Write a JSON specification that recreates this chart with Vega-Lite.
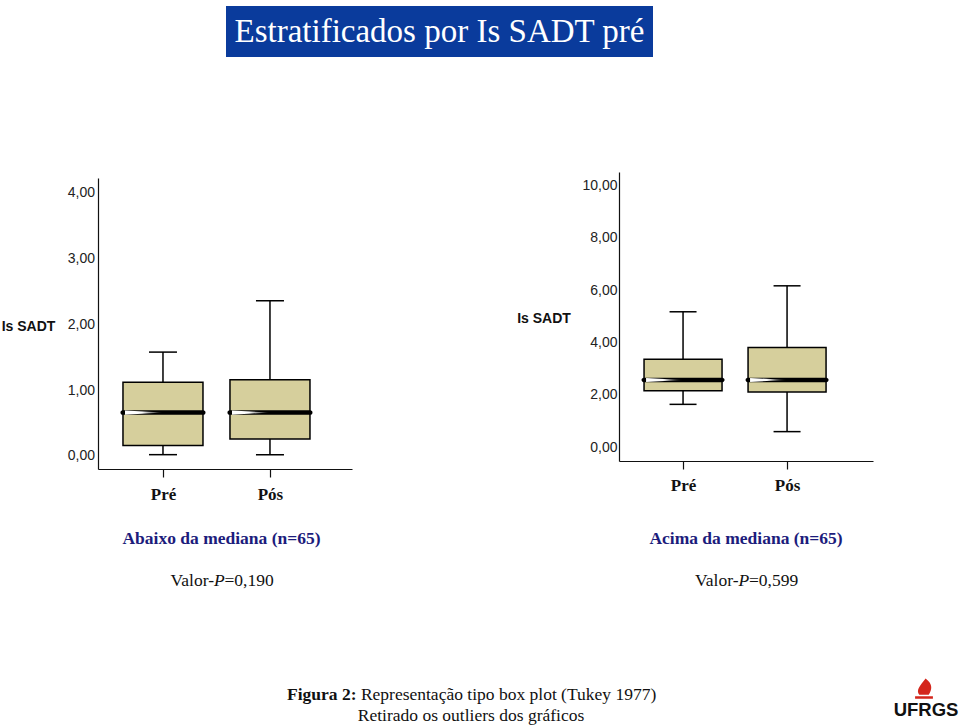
{
  "$schema": "https://vega.github.io/schema/vega-lite/v6.json",
  "width": 960,
  "height": 728,
  "autosize": {"type": "none"},
  "padding": 0,
  "background": "white",
  "config": {"view": {"stroke": null}, "axis": {"grid": false}},
  "datasets": {
    "abaixo": [
      {"momento": "Pré", "min": 0.02, "q1": 0.16, "mediana": 0.66, "q3": 1.12, "max": 1.58},
      {"momento": "Pós", "min": 0.02, "q1": 0.26, "mediana": 0.66, "q3": 1.16, "max": 2.36}
    ],
    "acima": [
      {"momento": "Pré", "min": 1.64, "q1": 2.16, "mediana": 2.57, "q3": 3.36, "max": 5.17},
      {"momento": "Pós", "min": 0.60, "q1": 2.11, "mediana": 2.57, "q3": 3.81, "max": 6.16}
    ],
    "titulo": [{"titulo": "Estratificados por Is SADT pré"}],
    "notas": [
      {"painel": "Abaixo", "linha": "grupo", "parte": "grupo", "texto": "Abaixo da mediana (n=65)"},
      {"painel": "Acima", "linha": "grupo", "parte": "grupo", "texto": "Acima da mediana (n=65)"},
      {"painel": "Abaixo", "linha": "valor", "parte": "rotulo", "texto": "Valor-"},
      {"painel": "Abaixo", "linha": "valor", "parte": "P", "texto": "P"},
      {"painel": "Abaixo", "linha": "valor", "parte": "numero", "texto": "=0,190"},
      {"painel": "Acima", "linha": "valor", "parte": "rotulo", "texto": "Valor-"},
      {"painel": "Acima", "linha": "valor", "parte": "P", "texto": "P"},
      {"painel": "Acima", "linha": "valor", "parte": "numero", "texto": "=0,599"}
    ],
    "legenda": [
      {"linha": "1", "parte": "negrito", "texto": "Figura 2:"},
      {"linha": "1", "parte": "normal", "texto": "Representação tipo box plot (Tukey 1977)"},
      {"linha": "2", "parte": "centro", "texto": "Retirado os outliers dos gráficos"}
    ],
    "logo": [
      {"marca": "UFRGS", "elemento": "chama", "texto": ""},
      {"marca": "UFRGS", "elemento": "sigla", "texto": "UFRGS"}
    ]
  },
  "resolve": {
    "scale": {"x": "independent", "y": "independent"},
    "axis": {"x": "independent", "y": "independent"}
  },
  "layer": [
    {
      "data": {"name": "titulo"},
      "encoding": {
        "x": {"field": "titulo", "type": "nominal", "scale": {"type": "band", "range": [226, 653], "paddingInner": 0, "paddingOuter": 0}, "axis": null},
        "y": {"field": "titulo", "type": "nominal", "scale": {"type": "band", "range": [6, 57], "paddingInner": 0, "paddingOuter": 0}, "axis": null}
      },
      "layer": [
        {"mark": {"type": "rect", "color": "#0a3b9c"}},
        {"mark": {"type": "text", "color": "white", "font": "Liberation Serif", "fontSize": 33, "baseline": "middle", "align": "center"},
         "encoding": {"text": {"field": "titulo"}}}
      ]
    },
    {
      "data": {"name": "abaixo"},
      "layer": [
        {
          "mark": {"type": "rule", "color": "black", "strokeWidth": 1.5},
          "encoding": {
            "x": {"field": "momento", "type": "nominal",
                  "scale": {"type": "point", "domain": ["Pré", "Pós"], "range": [98, 352], "padding": 0.687, "align": 0.442},
                  "axis": {"orient": "bottom", "offset": -259, "title": null, "labelAngle": 0, "domainColor": "#111", "domainWidth": 1.2, "tickColor": "#111", "tickSize": 8, "tickWidth": 1.2, "labelFont": "Liberation Serif", "labelFontSize": 17, "labelFontWeight": "bold", "labelColor": "#111", "labelPadding": 9}},
            "y": {"field": "min", "type": "quantitative",
                  "scale": {"domain": [-0.198, 4.228], "range": [469, 178], "nice": false, "zero": false},
                  "axis": {"orient": "left", "offset": -98, "values": [0, 1, 2, 3, 4], "labelExpr": "replace(format(datum.value, '.2f'), '.', ',')", "ticks": false, "tickSize": 0, "domainColor": "#111", "domainWidth": 1.2, "labelFont": "Liberation Sans", "labelFontSize": 14, "labelColor": "#222", "labelPadding": 3.5, "labelOverlap": false, "labelFlush": false, "title": "Is SADT", "titleFont": "Liberation Sans", "titleFontSize": 14, "titleFontWeight": "bold", "titleColor": "#111", "titleAngle": 0, "titleX": -70, "titleY": 326.5, "titleAlign": "center", "titleBaseline": "middle"}},
            "y2": {"field": "max"}
          }
        },
        {
          "mark": {"type": "tick", "color": "black", "opacity": 1, "thickness": 1.5, "size": 28},
          "encoding": {"x": {"field": "momento", "type": "nominal"}, "y": {"field": "min", "type": "quantitative"}}
        },
        {
          "mark": {"type": "tick", "color": "black", "opacity": 1, "thickness": 1.5, "size": 28},
          "encoding": {"x": {"field": "momento", "type": "nominal"}, "y": {"field": "max", "type": "quantitative"}}
        },
        {
          "mark": {"type": "bar", "size": 80, "fill": "#d6cf9c", "stroke": "black", "strokeWidth": 1.5, "opacity": 1},
          "encoding": {"x": {"field": "momento", "type": "nominal"}, "y": {"field": "q1", "type": "quantitative"}, "y2": {"field": "q3"}}
        },
        {
          "mark": {"type": "tick", "color": "black", "opacity": 1, "thickness": 4.5, "size": 85, "cornerRadius": 2.2},
          "encoding": {"x": {"field": "momento", "type": "nominal"}, "y": {"field": "mediana", "type": "quantitative"}}
        },
        {
          "mark": {"type": "point", "shape": "M-1,-0.11L1,0L-1,0.11Z", "size": 1444, "xOffset": -19, "filled": true, "opacity": 1, "strokeWidth": 0,
                   "fill": {"gradient": "linear", "x1": 0, "y1": 0, "x2": 1, "y2": 0, "stops": [{"offset": 0, "color": "white"}, {"offset": 0.45, "color": "white"}, {"offset": 1, "color": "black"}]}},
          "encoding": {"x": {"field": "momento", "type": "nominal"}, "y": {"field": "mediana", "type": "quantitative"}}
        }
      ]
    },
    {
      "data": {"name": "acima"},
      "layer": [
        {
          "mark": {"type": "rule", "color": "black", "strokeWidth": 1.5},
          "encoding": {
            "x": {"field": "momento", "type": "nominal",
                  "scale": {"type": "point", "domain": ["Pré", "Pós"], "range": [619, 873], "padding": 0.721, "align": 0.427},
                  "axis": {"orient": "bottom", "offset": -267, "title": null, "labelAngle": 0, "domainColor": "#111", "domainWidth": 1.2, "tickColor": "#111", "tickSize": 8, "tickWidth": 1.2, "labelFont": "Liberation Serif", "labelFontSize": 17, "labelFontWeight": "bold", "labelColor": "#111", "labelPadding": 8}},
            "y": {"field": "min", "type": "quantitative",
                  "scale": {"domain": [-0.52, 10.5], "range": [461, 172], "nice": false, "zero": false},
                  "axis": {"orient": "left", "offset": -619, "values": [0, 2, 4, 6, 8, 10], "labelExpr": "replace(format(datum.value, '.2f'), '.', ',')", "ticks": false, "tickSize": 0, "domainColor": "#111", "domainWidth": 1.2, "labelFont": "Liberation Sans", "labelFontSize": 14, "labelColor": "#222", "labelPadding": 2, "labelOverlap": false, "labelFlush": false, "title": "Is SADT", "titleFont": "Liberation Sans", "titleFontSize": 14, "titleFontWeight": "bold", "titleColor": "#111", "titleAngle": 0, "titleX": -75.5, "titleY": 318, "titleAlign": "center", "titleBaseline": "middle"}},
            "y2": {"field": "max"}
          }
        },
        {
          "mark": {"type": "tick", "color": "black", "opacity": 1, "thickness": 1.5, "size": 27},
          "encoding": {"x": {"field": "momento", "type": "nominal"}, "y": {"field": "min", "type": "quantitative"}}
        },
        {
          "mark": {"type": "tick", "color": "black", "opacity": 1, "thickness": 1.5, "size": 27},
          "encoding": {"x": {"field": "momento", "type": "nominal"}, "y": {"field": "max", "type": "quantitative"}}
        },
        {
          "mark": {"type": "bar", "size": 78, "fill": "#d6cf9c", "stroke": "black", "strokeWidth": 1.5, "opacity": 1},
          "encoding": {"x": {"field": "momento", "type": "nominal"}, "y": {"field": "q1", "type": "quantitative"}, "y2": {"field": "q3"}}
        },
        {
          "mark": {"type": "tick", "color": "black", "opacity": 1, "thickness": 4.5, "size": 83, "cornerRadius": 2.2},
          "encoding": {"x": {"field": "momento", "type": "nominal"}, "y": {"field": "mediana", "type": "quantitative"}}
        },
        {
          "mark": {"type": "point", "shape": "M-1,-0.11L1,0L-1,0.11Z", "size": 1369, "xOffset": -18.5, "filled": true, "opacity": 1, "strokeWidth": 0,
                   "fill": {"gradient": "linear", "x1": 0, "y1": 0, "x2": 1, "y2": 0, "stops": [{"offset": 0, "color": "white"}, {"offset": 0.45, "color": "white"}, {"offset": 1, "color": "black"}]}},
          "encoding": {"x": {"field": "momento", "type": "nominal"}, "y": {"field": "mediana", "type": "quantitative"}}
        }
      ]
    },
    {
      "data": {"name": "notas"},
      "encoding": {
        "x": {"field": "painel", "type": "nominal", "scale": {"type": "point", "domain": ["Abaixo", "Acima"], "range": [221.5, 746], "padding": 0}, "axis": null},
        "y": {"field": "linha", "type": "nominal", "scale": {"type": "point", "domain": ["grupo", "valor"], "range": [539, 581], "padding": 0}, "axis": null},
        "text": {"field": "texto"}
      },
      "layer": [
        {"transform": [{"filter": "datum.parte === 'grupo'"}],
         "mark": {"type": "text", "font": "Liberation Serif", "fontSize": 17.5, "fontWeight": "bold", "color": "#1c1c7c", "align": "center", "baseline": "middle"}},
        {"transform": [{"filter": "datum.parte === 'rotulo'"}],
         "mark": {"type": "text", "font": "Liberation Serif", "fontSize": 17.5, "color": "#111", "align": "right", "baseline": "middle", "dx": -7.5}},
        {"transform": [{"filter": "datum.parte === 'P'"}],
         "mark": {"type": "text", "font": "Liberation Serif", "fontSize": 17.5, "fontStyle": "italic", "color": "#111", "align": "left", "baseline": "middle", "dx": -7.5}},
        {"transform": [{"filter": "datum.parte === 'numero'"}],
         "mark": {"type": "text", "font": "Liberation Serif", "fontSize": 17.5, "color": "#111", "align": "left", "baseline": "middle", "dx": 3}}
      ]
    },
    {
      "data": {"name": "legenda"},
      "encoding": {
        "x": {"field": "linha", "type": "nominal", "scale": {"type": "point", "domain": ["1", "2"], "range": [356.5, 471], "padding": 0}, "axis": null},
        "y": {"field": "linha", "type": "nominal", "scale": {"type": "point", "domain": ["1", "2"], "range": [695, 716], "padding": 0}, "axis": null},
        "text": {"field": "texto"}
      },
      "layer": [
        {"transform": [{"filter": "datum.parte === 'negrito'"}],
         "mark": {"type": "text", "font": "Liberation Serif", "fontSize": 17.5, "fontWeight": "bold", "color": "#111", "align": "right", "baseline": "middle"}},
        {"transform": [{"filter": "datum.parte === 'normal'"}],
         "mark": {"type": "text", "font": "Liberation Serif", "fontSize": 17.5, "color": "#111", "align": "left", "baseline": "middle", "dx": 4.4}},
        {"transform": [{"filter": "datum.parte === 'centro'"}],
         "mark": {"type": "text", "font": "Liberation Serif", "fontSize": 17.5, "color": "#111", "align": "center", "baseline": "middle"}}
      ]
    },
    {
      "data": {"name": "logo"},
      "encoding": {
        "x": {"field": "marca", "type": "nominal", "scale": {"type": "point", "domain": ["UFRGS"], "range": [900, 952], "padding": 0}, "axis": null},
        "y": {"field": "elemento", "type": "nominal", "scale": {"type": "point", "domain": ["chama", "sigla"], "range": [689, 710], "padding": 0}, "axis": null}
      },
      "layer": [
        {"transform": [{"filter": "datum.elemento === 'chama'"}],
         "mark": {"type": "point", "filled": true, "color": "#d4261c", "opacity": 1, "size": 440, "xOffset": -2,
                  "shape": "M0.15,-1C0.9,-0.45 0.75,0.1 0.45,0.55L-0.45,0.55C-0.8,0.1 -0.35,-0.35 0.15,-1ZM-0.85,0.68L0.85,0.68L0.85,0.92L-0.85,0.92Z"}},
        {"transform": [{"filter": "datum.elemento === 'sigla'"}],
         "mark": {"type": "text", "font": "Liberation Sans", "fontSize": 18.5, "fontWeight": "bold", "color": "#111", "align": "center", "baseline": "middle"},
         "encoding": {"text": {"field": "texto"}}}
      ]
    }
  ]
}
